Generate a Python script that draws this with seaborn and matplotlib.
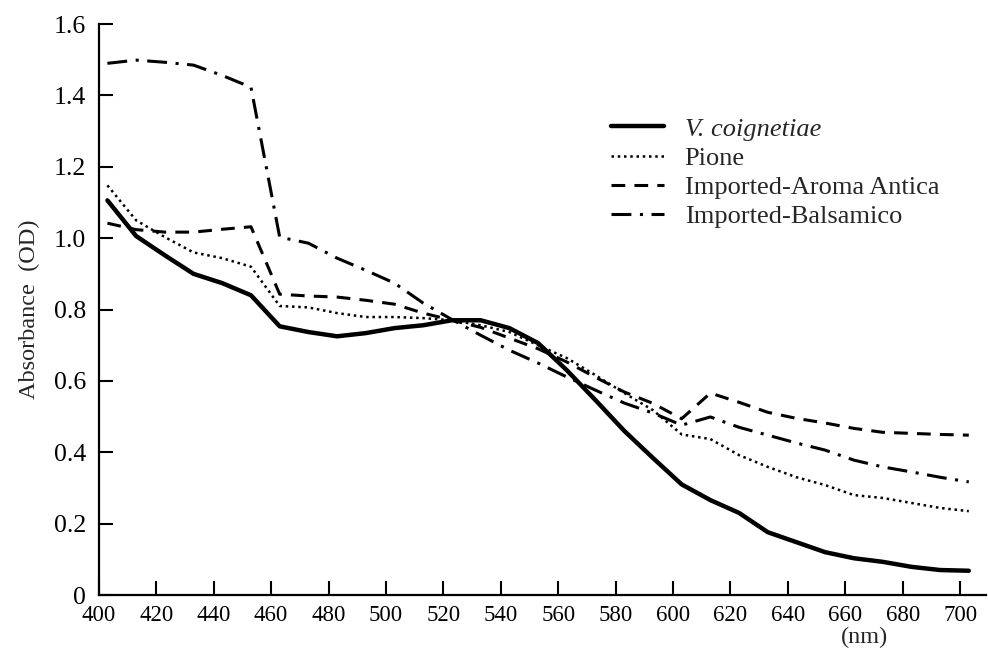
import matplotlib
matplotlib.use("Agg")
import matplotlib.pyplot as plt
import seaborn as sns
import pandas as pd

wavelength = [403, 413, 423, 433, 443, 453, 463, 473, 483, 493, 503, 513, 523,
              533, 543, 553, 563, 573, 583, 593, 603, 613, 623, 633, 643, 653,
              663, 673, 683, 693, 703]

v_coignetiae = [1.106, 1.006, 0.952, 0.900, 0.874, 0.840, 0.753, 0.737, 0.725,
                0.734, 0.748, 0.756, 0.770, 0.770, 0.748, 0.706, 0.630, 0.546,
                0.460, 0.384, 0.310, 0.266, 0.230, 0.176, 0.148, 0.120, 0.103,
                0.093, 0.079, 0.070, 0.068]

pione = [1.148, 1.050, 1.003, 0.960, 0.944, 0.920, 0.810, 0.806, 0.790, 0.779,
         0.779, 0.776, 0.770, 0.756, 0.737, 0.700, 0.664, 0.616, 0.566, 0.518,
         0.450, 0.437, 0.392, 0.359, 0.330, 0.308, 0.280, 0.272, 0.258, 0.244,
         0.235]

aroma_antica = [1.042, 1.024, 1.017, 1.017, 1.025, 1.032, 0.843, 0.838, 0.835,
                0.826, 0.815, 0.790, 0.770, 0.750, 0.720, 0.690, 0.653, 0.610,
                0.569, 0.537, 0.494, 0.566, 0.540, 0.512, 0.495, 0.482, 0.467,
                0.456, 0.453, 0.450, 0.448]

balsamico = [1.490, 1.499, 1.493, 1.485, 1.456, 1.423, 1.003, 0.986, 0.944,
             0.910, 0.874, 0.818, 0.772, 0.728, 0.686, 0.650, 0.611, 0.574,
             0.538, 0.510, 0.476, 0.499, 0.470, 0.448, 0.426, 0.406, 0.378,
             0.359, 0.345, 0.330, 0.317]

series_names = ["V. coignetiae", "Pione", "Imported-Aroma Antica", "Imported-Balsamico"]
x_ticks = list(range(400, 701, 20))
y_ticks = [0, 0.2, 0.4, 0.6, 0.8, 1.0, 1.2, 1.4, 1.6]
y_tick_labels = ["0", "0.2", "0.4", "0.6", "0.8", "1.0", "1.2", "1.4", "1.6"]

df = pd.DataFrame({
    "wl": wavelength,
    series_names[0]: v_coignetiae,
    series_names[1]: pione,
    series_names[2]: aroma_antica,
    series_names[3]: balsamico,
})

sns.set_style("ticks")
plt.rcParams["font.family"] = ["Liberation Serif", "DejaVu Serif"]

fig = plt.figure(figsize=(9.88, 6.51), dpi=100)
ax = fig.add_axes([0.100, 0.086, 0.898, 0.877])

styles = {
    series_names[0]: dict(lw=3.2, ls="-"),
    series_names[1]: dict(lw=1.8, ls=(0, (1, 1.5))),
    series_names[2]: dict(lw=2.2, ls=(0, (4.5, 3.0))),
    series_names[3]: dict(lw=2.2, ls=(0, (6.5, 2.8, 1, 2.8))),
}

for name in series_names:
    st = styles[name]
    sns.lineplot(data=df, x="wl", y=name, ax=ax, color="black",
                 linewidth=st["lw"], linestyle=st["ls"], label=name)

ax.set_xlim(400, 709)
ax.set_ylim(0, 1.6)
ax.set_xticks(x_ticks)
ax.set_xticklabels([str(t) for t in x_ticks], fontsize=16.5)
ax.set_yticks(y_ticks)
ax.set_yticklabels(y_tick_labels, fontsize=18.5)
ax.tick_params(axis="both", direction="in", length=10, width=1.5, colors="black")
ax.tick_params(axis="x", pad=7)
ax.tick_params(axis="y", pad=9)

for s in ["top", "right"]:
    ax.spines[s].set_visible(False)
for s in ["left", "bottom"]:
    ax.spines[s].set_linewidth(1.6)
    ax.spines[s].set_color("black")

ax.set_xlabel("")
ax.set_ylabel("Absorbance  (OD)", fontsize=17.5, labelpad=10)
ax.text(864 / 988, 1 - 637 / 651, "(nm)", transform=fig.transFigure,
        ha="center", va="center", fontsize=17.5)

leg = ax.legend(loc="upper left", bbox_to_anchor=(0.577, 0.837), frameon=False,
                fontsize=19, handlelength=2.0, handletextpad=0.8,
                labelspacing=0.22, borderpad=0, borderaxespad=0)
leg.get_texts()[0].set_fontstyle("italic")

fig.savefig("out.png", dpi=100)
